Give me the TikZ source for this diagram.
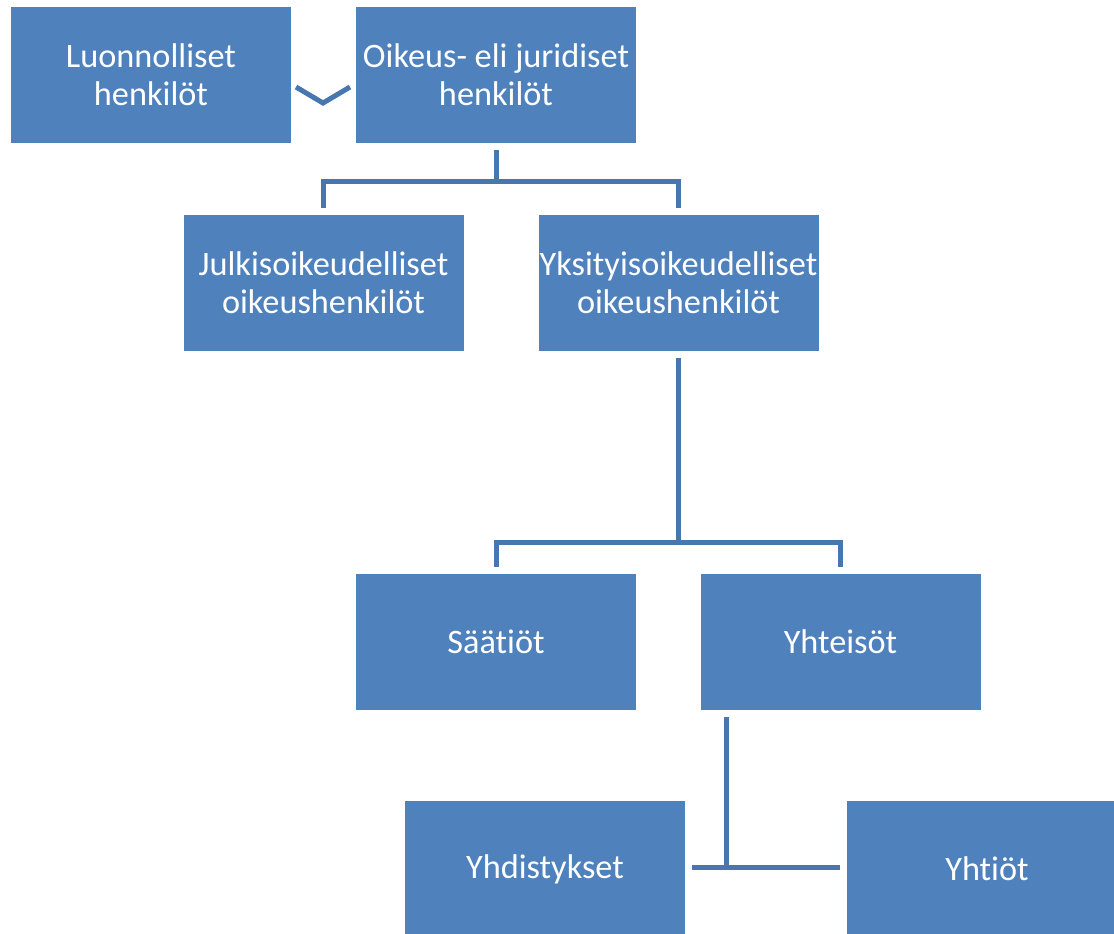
\documentclass[tikz,border=0pt]{standalone}
\usepackage{fontspec}
\setmainfont[Ligatures={NoCommon,NoContextual,NoRequired}]{Carlito}
\definecolor{boxblue}{RGB}{79,129,189}
\definecolor{lineblue}{RGB}{72,118,174}
\begin{document}
\begin{tikzpicture}[x=1pt,y=-1pt,
  box/.style={rectangle,fill=boxblue,minimum width=280pt,minimum height=136pt,inner sep=0pt,
    text=white,align=center,font=\fontsize{34.3}{38}\selectfont},
  conn/.style={draw=lineblue,line width=5pt}]
\useasboundingbox (0,0) rectangle (1114,934);
\clip (0,0) rectangle (1114,934);
\node[box] (luo) at (151,75) {Luonnolliset\\henkilöt};
\node[box] (oik) at (496,75) {Oikeus- eli juridiset\\henkilöt};
\node[box] (jul) at (323.5,283) {Julkisoikeudelliset\\oikeushenkilöt};
\node[box] (yks) at (678.5,283) {Yksityisoikeudelliset\\oikeushenkilöt};
\node[box] (saa) at (496,642) {Sääti\kern0pt öt};
\node[box] (yht) at (840.5,642) {Yhteisöt};
\node[box] (yhd) at (545,869) {Yhdistykset};
\node[box] (yhtio) at (987,869) {Yhtiöt};
% chevron
\draw[conn,line join=miter] (296,87) -- (323,103) -- (350,87);
% connectors
\draw[conn] ([yshift=-7pt]oik.south) -- ++(0,31) -| ([yshift=7pt]jul.north);
\draw[conn] ([yshift=-7pt]oik.south) -- ++(0,31) -| ([yshift=7pt]yks.north);
\draw[conn] ([yshift=-7pt]yks.south) -- ++(0,184) -| ([yshift=7pt]saa.north);
\draw[conn] ([yshift=-7pt]yks.south) -- ++(0,184) -| ([yshift=7pt]yht.north);
\coordinate (ys) at ([yshift=-7pt]yht.south);
\coordinate (j) at (726,867);
\draw[conn] ([xshift=7pt]yhd.east |- j) -- ([xshift=-7pt]yhtio.west |- j);
\draw[conn] (j) -- (j |- ys);
\end{tikzpicture}
\end{document}
